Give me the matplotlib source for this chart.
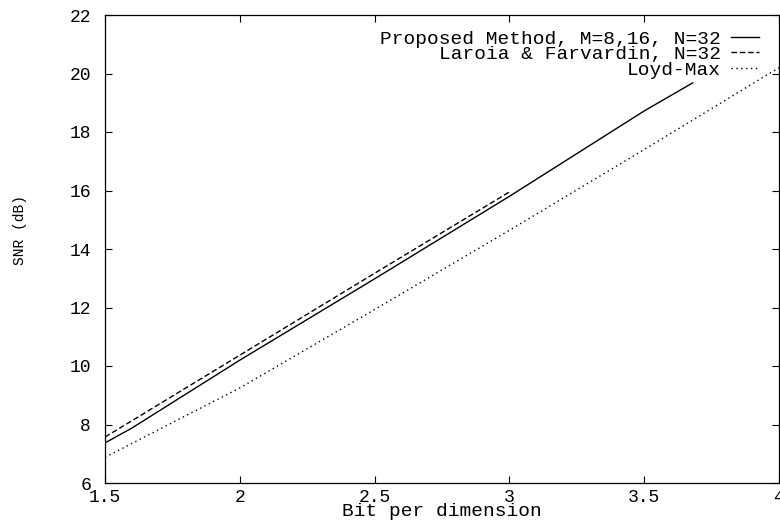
import matplotlib
matplotlib.use("Agg")
import matplotlib.pyplot as plt

# values
bits_proposed = [1.5, 1.6, 2.0, 2.5, 3.0, 3.5, 3.68]
snr_proposed = [7.37, 7.88, 10.2, 12.98, 15.8, 18.72, 19.68]

bits_laroia = [1.5, 2.0, 2.5, 3.0]
snr_laroia = [7.57, 10.37, 13.17, 15.95]

bits_lloyd = [1.5, 2.0, 2.5, 3.0, 3.5, 4.0]
snr_lloyd = [6.88, 9.25, 11.93, 14.64, 17.4, 20.2]

labels = ["Proposed Method, M=8,16, N=32",
          "Laroia & Farvardin, N=32",
          "Loyd-Max"]

xticks = [1.5, 2, 2.5, 3, 3.5, 4]
xticklabels = ["1.5", "2", "2.5", "3", "3.5", "4"]
yticks = [6, 8, 10, 12, 14, 16, 18, 20, 22]

plt.rcParams['font.family'] = ['Liberation Mono', 'DejaVu Sans Mono']

fig = plt.figure(figsize=(7.8, 5.21), dpi=100)
ax = fig.add_axes([105 / 780, 38 / 521, 674 / 780, 468 / 521])

ax.plot(bits_proposed, snr_proposed, color='black', lw=1.0, label=labels[0])
ax.plot(bits_laroia, snr_laroia, color='black', lw=1.0, dashes=(4, 2), label=labels[1])
ax.plot(bits_lloyd, snr_lloyd, color='black', lw=1.0, dashes=(1, 2.5), label=labels[2])

ax.set_xlim(1.5, 4)
ax.set_ylim(6, 22)
ax.set_xticks(xticks)
ax.set_xticklabels(xticklabels)
ax.set_yticks(yticks)
ax.tick_params(direction='in', length=5, width=0.8, top=True, right=True,
               labelsize=13)
ax.tick_params(axis='y', pad=10)
ax.tick_params(axis='x', pad=4)
for s in ax.spines.values():
    s.set_linewidth(0.9)

ax.set_xlabel("Bit per dimension", fontsize=14, labelpad=-2)
ax.set_ylabel("SNR (dB)", fontsize=10.5)
ax.yaxis.set_label_coords(-0.116, 0.54)

leg = ax.legend(loc='upper right', bbox_to_anchor=(0.970, 0.968),
                markerfirst=False, frameon=False, fontsize=14,
                handlelength=1.45, handletextpad=0.5, labelspacing=-0.1,
                borderpad=0, borderaxespad=0)

fig.savefig("out.png", dpi=100)
